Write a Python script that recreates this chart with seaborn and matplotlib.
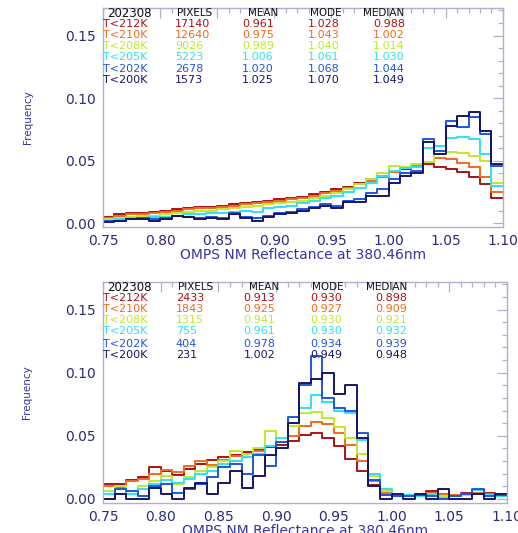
import numpy as np
import pandas as pd
import matplotlib
matplotlib.use("Agg")
import matplotlib.pyplot as plt
import seaborn as sns
from matplotlib.ticker import MultipleLocator

# ---------------- data ----------------
bin_edges = np.round(np.arange(0.75, 1.1001, 0.01), 2)
bin_centers = (bin_edges[:-1] + bin_edges[1:]) / 2

labels = ["T<212K", "T<210K", "T<208K", "T<205K", "T<202K", "T<200K"]
colors = ["#a81414", "#f26a1e", "#c2e82a", "#2ee2f2", "#1f55e0", "#161668"]

# top panel frequencies (bins 0.75..1.09)
top_212 = [0.005,0.007,0.008,0.008,0.009,0.010,0.011,0.012,0.013,0.013,
           0.014,0.015,0.016,0.017,0.018,0.019,0.020,0.021,0.023,0.025,
           0.027,0.029,0.032,0.035,0.038,0.041,0.043,0.045,0.047,0.045,
           0.043,0.041,0.037,0.031,0.020]
top_210 = [0.004,0.006,0.007,0.007,0.008,0.009,0.010,0.011,0.012,0.012,
           0.013,0.014,0.015,0.016,0.017,0.018,0.019,0.020,0.022,0.024,
           0.026,0.028,0.031,0.034,0.037,0.041,0.044,0.046,0.049,0.052,
           0.051,0.048,0.045,0.037,0.025]
top_208 = [0.003,0.004,0.005,0.006,0.006,0.007,0.008,0.009,0.010,0.010,
           0.011,0.012,0.013,0.014,0.015,0.016,0.017,0.018,0.020,0.022,
           0.024,0.027,0.031,0.035,0.040,0.046,0.045,0.047,0.049,0.055,
           0.057,0.056,0.054,0.050,0.032]
top_205 = [0.002,0.003,0.004,0.004,0.005,0.005,0.006,0.007,0.007,0.008,
           0.008,0.009,0.010,0.009,0.012,0.013,0.014,0.016,0.018,0.020,
           0.022,0.025,0.028,0.032,0.038,0.042,0.044,0.045,0.060,0.062,
           0.068,0.069,0.067,0.055,0.030]
top_202 = [0.002,0.002,0.003,0.004,0.003,0.004,0.006,0.005,0.004,0.005,
           0.004,0.008,0.005,0.004,0.006,0.008,0.009,0.011,0.013,0.015,
           0.014,0.018,0.019,0.024,0.027,0.035,0.040,0.042,0.067,0.058,
           0.082,0.077,0.085,0.071,0.046]
top_200 = [0.001,0.002,0.003,0.003,0.002,0.003,0.006,0.005,0.003,0.004,
           0.003,0.007,0.004,0.002,0.005,0.007,0.008,0.010,0.012,0.014,
           0.012,0.017,0.017,0.022,0.022,0.032,0.038,0.040,0.065,0.055,
           0.078,0.086,0.089,0.074,0.047]

# bottom panel frequencies
bot_212 = [0.012,0.012,0.015,0.017,0.025,0.022,0.019,0.024,0.028,0.031,0.033,0.035,0.037,0.039,0.041,0.043,
           0.046,0.051,0.052,0.048,0.042,0.032,0.022,0.011,0.004,
           0.003,0.003,0.004,0.006,0.004,0.003,0.005,0.004,0.005,0.003]
bot_210 = [0.010,0.009,0.014,0.016,0.020,0.023,0.021,0.026,0.030,0.027,0.031,0.034,0.036,0.038,0.042,0.045,
           0.050,0.058,0.061,0.059,0.052,0.043,0.030,0.014,0.005,
           0.003,0.003,0.004,0.005,0.004,0.003,0.004,0.005,0.004,0.003]
bot_208 = [0.006,0.010,0.004,0.010,0.014,0.018,0.012,0.017,0.022,0.025,0.030,0.038,0.036,0.040,0.054,0.048,
           0.058,0.068,0.069,0.064,0.057,0.048,0.036,0.018,0.006,
           0.002,0.002,0.003,0.003,0.002,0.002,0.003,0.004,0.003,0.002]
bot_205 = [0.004,0.008,0.004,0.008,0.012,0.015,0.013,0.016,0.020,0.022,0.028,0.030,0.033,0.036,0.042,0.048,
           0.060,0.072,0.082,0.077,0.070,0.068,0.047,0.020,0.008,
           0.002,0.003,0.002,0.004,0.001,0.002,0.004,0.007,0.003,0.002]
bot_202 = [0.000,0.008,0.006,0.002,0.010,0.012,0.005,0.008,0.012,0.017,0.025,0.028,0.020,0.035,0.026,0.045,
           0.065,0.090,0.113,0.080,0.072,0.070,0.052,0.015,0.003,
           0.002,0.002,0.003,0.002,0.000,0.002,0.004,0.008,0.002,0.003]
bot_200 = [0.000,0.004,0.000,0.000,0.009,0.004,0.000,0.009,0.013,0.004,0.013,0.022,0.009,0.018,0.035,0.040,
           0.060,0.092,0.095,0.100,0.083,0.090,0.048,0.010,0.000,
           0.004,0.000,0.004,0.000,0.008,0.000,0.000,0.004,0.000,0.004]

# table text
header = ["202308", "PIXELS", "MEAN", "MODE", "MEDIAN"]
top_pixels = ["17140", "12640", "9026", "5223", "2678", "1573"]
top_mean = ["0.961", "0.975", "0.989", "1.006", "1.020", "1.025"]
top_mode = ["1.028", "1.043", "1.040", "1.061", "1.068", "1.070"]
top_median = ["0.988", "1.002", "1.014", "1.030", "1.044", "1.049"]
bot_pixels = ["2433", "1843", "1315", "755", "404", "231"]
bot_mean = ["0.913", "0.925", "0.941", "0.961", "0.978", "1.002"]
bot_mode = ["0.930", "0.927", "0.930", "0.930", "0.934", "0.949"]
bot_median = ["0.898", "0.909", "0.921", "0.932", "0.939", "0.948"]

xticks = [0.75, 0.80, 0.85, 0.90, 0.95, 1.00, 1.05, 1.10]
yticks = [0.00, 0.05, 0.10, 0.15]
xlabel = "OMPS NM Reflectance at 380.46nm"
ylabel = "Frequency"

# ---------------- style ----------------
sns.set_theme(style="white")
plt.rcParams["font.family"] = ["DejaVu Sans"]

tick_color = "#2b2b7a"
spine_color = "#aeb0d2"
label_color = "#3535a5"

fig = plt.figure(figsize=(5.18, 5.33), dpi=100)
ax_top = fig.add_axes([0.1988, 0.574, 0.772, 0.411])
ax_bot = fig.add_axes([0.1988, 0.0563, 0.780, 0.415])

panels = [
    (ax_top, [top_212, top_210, top_208, top_205, top_202, top_200],
     top_pixels, top_mean, top_mode, top_median),
    (ax_bot, [bot_212, bot_210, bot_208, bot_205, bot_202, bot_200],
     bot_pixels, bot_mean, bot_mode, bot_median),
]

header_x = [0.01, 0.185, 0.3625, 0.5175, 0.65]
col_x = [0.0, 0.18, 0.3475, 0.5125, 0.675]
row_y = [0.927, 0.877, 0.826, 0.776, 0.721, 0.671]

for ax, series, pix, mean, mode, median in panels:
    for vals, col in zip(series, colors):
        df = pd.DataFrame({"refl": bin_centers, "freq": np.asarray(vals, float)})
        sns.histplot(data=df, x="refl", weights="freq", bins=list(bin_edges),
                     element="step", fill=False, color=col,
                     linewidth=1.4, ax=ax)
    ax.set_xlim(0.75, 1.10)
    ax.set_ylim(-0.0032, 0.172)
    ax.set_xticks(xticks)
    ax.set_yticks(yticks)
    ax.set_xticklabels([f"{v:.2f}" for v in xticks])
    ax.set_yticklabels([f"{v:.2f}" for v in yticks])
    ax.xaxis.set_minor_locator(MultipleLocator(0.01))
    ax.yaxis.set_minor_locator(MultipleLocator(0.01))
    ax.tick_params(which="both", direction="in", top=True, right=True,
                   color=spine_color, width=0.9)
    ax.tick_params(which="major", length=7, labelsize=10,
                   labelcolor=tick_color, pad=5)
    ax.tick_params(which="minor", length=3.5)
    for s in ax.spines.values():
        s.set_color(spine_color)
        s.set_linewidth(1.0)
    ax.set_xlabel(xlabel, fontsize=10, color=label_color, labelpad=0)
    ax.set_ylabel(ylabel, fontsize=7.5, color=label_color)
    ax.yaxis.set_label_coords(-0.175, 0.5)

    # table
    for hx, h in zip(header_x, header):
        ax.text(hx, 0.975, h, transform=ax.transAxes,
                fontsize=8.5 if h == "202308" else 7.5,
                color="#111111", ha="left", va="center")
    for i in range(6):
        cells = [labels[i], pix[i], mean[i], mode[i], median[i]]
        for cx, txt in zip(col_x, cells):
            ax.text(cx, row_y[i], txt, transform=ax.transAxes, fontsize=8,
                    color=colors[i], ha="left", va="center")

fig.savefig("out.png", dpi=100)
